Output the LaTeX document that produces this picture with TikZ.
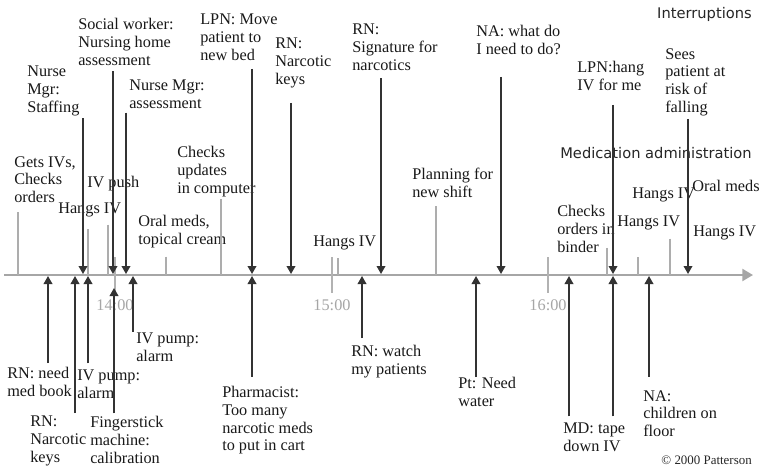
\documentclass[tikz,border=0pt]{standalone}
\usepackage{fontspec}
\setmainfont{Liberation Serif}
\newfontfamily\labelsans{DejaVu Sans}
\usetikzlibrary{arrows.meta}
\tikzset{
  event text/.style={
    anchor=north west, inner sep=0pt, align=left, text=black!90,
    font=\fontsize{12.2}{13.3}\selectfont
  },
  stage label/.style={
    anchor=base east, inner sep=0pt, text=black!85,
    font=\labelsans\fontsize{11}{13}\selectfont
  },
  int arrow/.style={draw=black!80, line width=1.1pt, -{Triangle[length=6pt,width=6.5pt]}},
  med line/.style={draw=black!32, line width=0.8pt},
  hour tick/.style={draw=black!30, line width=2.2pt},
  hour label/.style={anchor=base, inner sep=0pt, text=black!35, font=\fontsize{12.2}{13.3}\selectfont},
  time axis/.style={draw=black!35, line width=1.6pt, -{Triangle[length=8pt,width=9pt]}}
}

\begin{document}
\begin{tikzpicture}[x=0.75pt, y=-0.75pt]
    \path[use as bounding box, fill=white] (0,0) rectangle (759,471);

    % time line
    \coordinate (axis start) at (4,275);
    \coordinate (axis end) at (753,275);
    \draw[time axis] (axis start) -- (axis end);
    \draw[hour tick] (115,257) -- (115,293);
    \draw[hour tick] (332,257) -- (332,293);
    \draw[hour tick] (548,257) -- (548,293);
    \draw (115,310) node[hour label] (h14) {14:00};
    \draw (332,310) node[hour label] (h15) {15:00};
    \draw (548,310) node[hour label] (h16) {16:00};

    % points on the time line
    \coordinate (i1) at (83,274);  \coordinate (i2) at (113,274); \coordinate (i3) at (126,274);
    \coordinate (i4) at (252,274); \coordinate (i5) at (291,274); \coordinate (i6) at (381,274);
    \coordinate (i7) at (501,274); \coordinate (i8) at (613,274); \coordinate (i9) at (688,274);
    \coordinate (b1) at (48,276);  \coordinate (b2) at (75,276);  \coordinate (b3) at (88,276);
    \coordinate (b4) at (114,288); \coordinate (b5) at (133,276); \coordinate (b6) at (252,276);
    \coordinate (b7) at (362,276); \coordinate (b8) at (476,276); \coordinate (b9) at (569,276);
    \coordinate (b10) at (613,276); \coordinate (b11) at (649,276);
    \coordinate (m1) at (18,275);  \coordinate (m2) at (88,275);  \coordinate (m3) at (108,275);
    \coordinate (m4) at (166,275); \coordinate (m5) at (221,275); \coordinate (m6) at (338,275);
    \coordinate (m7) at (436,275); \coordinate (m8) at (607,275); \coordinate (m9) at (638,275);
    \coordinate (m10) at (670,275);

    % headings
    \draw (752,18) node[stage label] (intr) {Interruptions};
    \draw (752,158) node[stage label] (medadm) {Medication administration};
    \draw (752,464) node[stage label, font=\fontsize{9.7}{11}\selectfont] (copy) {\textcopyright\ 2000 Patterson};

    % medication administration
    \draw (14,156) node[event text] (getivs) {Gets IVs,\\Checks\\orders};
    \draw (58,203) node[event text] (hang1) {Hangs IV};
    \draw (87,176) node[event text] (ivpush) {IV push};
    \draw (138,215) node[event text] (oral1) {Oral meds,\\topical cream};
    \draw (177,146) node[event text] (updates) {Checks\\updates\\in computer};
    \draw (313,236) node[event text] (hang2) {Hangs IV};
    \draw (412,168) node[event text] (planning) {Planning for\\new shift};
    \draw (557,205) node[event text] (binder) {Checks\\orders in\\binder};
    \draw (617,216) node[event text] (hang3) {Hangs IV};
    \draw (632,188) node[event text] (hang4) {Hangs IV};
    \draw (692,180) node[event text] (oral2) {Oral meds};
    \draw (693,226) node[event text] (hang5) {Hangs IV};

    \draw (getivs.south -| m1) edge[med line, shorten <=7pt] (m1);
    \draw (hang1.south -| m2) edge[med line, shorten <=8.6pt] (m2);
    \draw (ivpush.south -| m3) edge[med line, shorten <=25pt] (m3);
    \draw (oral1.south -| m4) edge[med line, shorten <=6.4pt] (m4);
    \draw (updates.south -| m5) edge[med line, shorten <=1.9pt] (m5);
    \draw (hang2.south -| m6) edge[med line, shorten <=5.6pt] (m6);
    \draw (planning.south -| m7) edge[med line, shorten <=6.4pt] (m7);
    \draw (binder.south -| m8) edge[med line, shorten <=-3.4pt] (m8);
    \draw (hang3.south -| m9) edge[med line, shorten <=20pt] (m9);
    \draw (hang4.south -| m10) edge[med line, shorten <=27pt] (m10);

    % interruptions above the line
    \draw (27,66) node[event text] (staff) {Nurse\\Mgr:\\Staffing};
    \draw (78,18) node[event text] (social) {Social worker:\\Nursing home\\assessment};
    \draw (129,80) node[event text] (nmassess) {Nurse Mgr:\\assessment};
    \draw (200,14) node[event text] (lpnmove) {LPN: Move\\patient to\\new bed};
    \draw (275,38) node[event text] (rnkeys) {RN:\\Narcotic\\keys};
    \draw (352,24) node[event text] (rnsign) {RN:\\Signature for\\narcotics};
    \draw (476,25) node[event text] (nawhat) {NA: what do\\I need to do?};
    \draw (577,61) node[event text] (lpnhang) {LPN:hang\\IV for me};
    \draw (665,48) node[event text] (falling) {Sees\\patient at\\risk of\\falling};

    \draw (staff.south -| i1) edge[int arrow, shorten <=1.5pt] (i1);
    \draw (social.south -| i2) edge[int arrow, shorten <=4.5pt] (i2);
    \draw (nmassess.south -| i3) edge[int arrow, shorten <=2.6pt] (i3);
    \draw (lpnmove.south -| i4) edge[int arrow, shorten <=6pt] (i4);
    \draw (rnkeys.south -| i5) edge[int arrow, shorten <=11pt] (i5);
    \draw (rnsign.south -| i6) edge[int arrow, shorten <=5.6pt] (i6);
    \draw (nawhat.south -| i7) edge[int arrow, shorten <=16.5pt] (i7);
    \draw (lpnhang.south -| i8) edge[int arrow, shorten <=10.5pt] (i8);
    \draw (falling.south -| i9) edge[int arrow, shorten <=2.2pt] (i9);

    % interruptions below the line
    \draw (7,367) node[event text] (medbook) {RN: need\\med book};
    \draw (30,416) node[event text] (rnkeysb) {RN:\\Narcotic\\keys};
    \draw (77,370) node[event text] (pumpa) {IV pump:\\alarm};
    \draw (90,416) node[event text] (finger) {Fingerstick\\machine:\\calibration};
    \draw (136,333) node[event text] (pumpb) {IV pump:\\alarm};
    \draw (222,386) node[event text] (pharm) {Pharmacist:\\Too many\\narcotic meds\\to put in cart};
    \draw (351,345) node[event text] (watch) {RN: watch\\my patients};
    \draw (458,377) node[event text] (water) {Pt: Need\\water};
    \draw (563,423) node[event text] (tape) {MD: tape\\down IV};
    \draw (643,390) node[event text] (children) {NA:\\children on\\floor};

    \draw (medbook.north -| b1) edge[int arrow, shorten <=3pt] (b1);
    \draw (rnkeysb.north -| b2) edge[int arrow, shorten <=2.2pt] (b2);
    \draw (pumpa.north -| b3) edge[int arrow, shorten <=5pt] (b3);
    \draw (finger.north -| b4) edge[int arrow, shorten <=2pt] (b4);
    \draw (pumpb.north -| b5) edge[int arrow, shorten <=0.8pt] (b5);
    \draw (pharm.north -| b6) edge[int arrow, shorten <=6.8pt] (b6);
    \draw (watch.north -| b7) edge[int arrow, shorten <=5.2pt] (b7);
    \draw (water.north -| b8) edge[int arrow] (b8);
    \draw (tape.north -| b9) edge[int arrow, shorten <=5pt] (b9);
    \draw (tape.north -| b10) edge[int arrow, shorten <=5pt] (b10);
    \draw (children.north -| b11) edge[int arrow, shorten <=10pt] (b11);
\end{tikzpicture}
\end{document}
